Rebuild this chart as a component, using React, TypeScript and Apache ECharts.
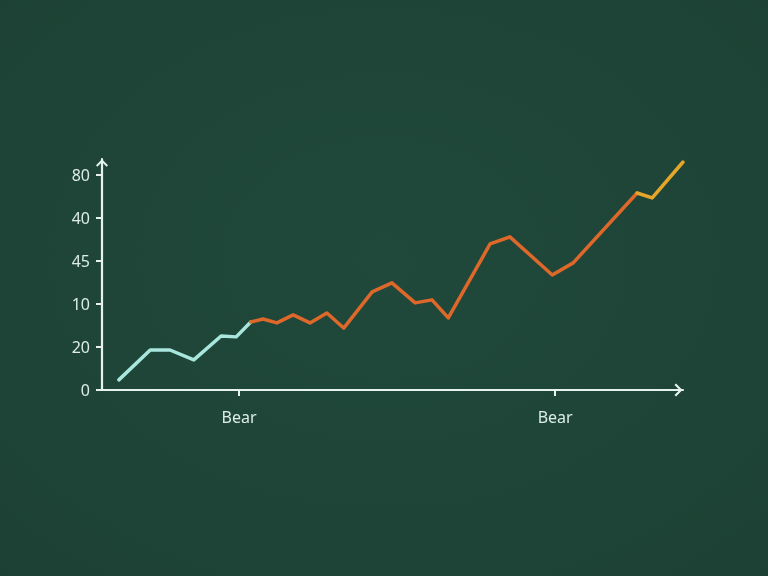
import React, { useEffect, useRef } from "react";
import * as echarts from "echarts";

// Point positions along the (unlabelled) horizontal scale, 0..100
const xValues = [
  2.9, 8.3, 11.7, 15.8, 20.5, 23.1, 25.6, 27.7, 30.1, 32.9, 35.8, 38.7, 41.6,
  46.5, 49.9, 53.9, 56.8, 59.6, 66.8, 70.2, 77.5, 81.1, 92.1, 94.7, 100,
];
// Values on the vertical scale (ticks every 20 units)
const yValues = [
  4.7, 18.6, 18.6, 14.0, 25.1, 24.7, 31.6, 33.0, 31.2, 34.9, 31.2, 35.8, 28.8,
  45.6, 49.8, 40.5, 41.9, 33.5, 67.9, 71.2, 53.5, 59.1, 91.6, 89.3, 106.0,
];
// Segment boundaries (indices into the arrays above)
const cyanEnd = 6;
const orangeEnd = 22;

const yTickValues = [0, 20, 40, 60, 80, 100];
const yTickLabels = ["0", "20", "10", "45", "40", "80"];
const xTickValues = [23.6, 78.0];
const xTickLabels = ["Bear", "Bear"];

const chevron = "path://M6 0 L12 6 L10.6 7.4 L6 2.8 L1.4 7.4 L0 6 Z";

function pts(from: number, to: number) {
  const out: number[][] = [];
  for (let i = from; i <= to; i++) out.push([xValues[i], yValues[i]]);
  return out;
}

export default function App() {
  const ref = useRef<HTMLDivElement>(null);
  useEffect(() => {
    document.body.style.margin = "0";
    const chart = echarts.init(ref.current!, undefined, { renderer: "svg" });
    const axisColor = "#e6f2ec";
    const labelColor = "#dcede5";
    const font = "'Noto Sans', 'Open Sans', sans-serif";
    const lineBase = { width: 3.5, cap: "round", join: "round" };
    chart.setOption({
      animation: false,
      backgroundColor: {
        type: "radial",
        x: 0.5,
        y: 0.45,
        r: 0.8,
        colorStops: [
          { offset: 0, color: "#20493b" },
          { offset: 1, color: "#1c4134" },
        ],
      },
      grid: { left: 102, right: 85, top: 159, bottom: 186, containLabel: false },
      xAxis: {
        type: "value",
        min: 0,
        max: 100,
        splitLine: { show: false },
        axisLine: {
          show: true,
          lineStyle: { color: axisColor, width: 2.2 },
          symbol: ["none", chevron],
          symbolSize: [13, 9],
          symbolOffset: [0, -4.5],
        },
        axisTick: {
          show: true,
          length: 6,
          lineStyle: { color: axisColor, width: 2 },
          customValues: xTickValues,
        },
        axisLabel: {
          color: labelColor,
          fontSize: 16,
          fontFamily: font,
          margin: 19,
          customValues: xTickValues,
          formatter: (v: number) => {
            const i = xTickValues.findIndex((t) => Math.abs(t - v) < 1e-6);
            return i >= 0 ? xTickLabels[i] : "";
          },
        },
      },
      yAxis: {
        type: "value",
        min: 0,
        max: 107.4,
        splitLine: { show: false },
        axisLine: {
          show: true,
          lineStyle: { color: axisColor, width: 2.2 },
          symbol: ["none", chevron],
          symbolSize: [12, 8],
          symbolOffset: [0, -4],
        },
        axisTick: {
          show: true,
          length: 6,
          lineStyle: { color: axisColor, width: 2 },
          customValues: yTickValues,
        },
        axisLabel: {
          color: labelColor,
          fontSize: 16,
          fontFamily: font,
          margin: 12,
          customValues: yTickValues,
          formatter: (v: number) => {
            const i = yTickValues.findIndex((t) => Math.abs(t - v) < 1e-6);
            return i >= 0 ? yTickLabels[i] : "";
          },
        },
      },
      series: [
        {
          type: "line",
          data: pts(0, cyanEnd),
          showSymbol: false,
          clip: false,
          lineStyle: { ...lineBase, color: "#a8e6de" },
        },
        {
          type: "line",
          data: pts(cyanEnd, orangeEnd),
          showSymbol: false,
          clip: false,
          lineStyle: { ...lineBase, color: "#de682a" },
        },
        {
          type: "line",
          data: pts(orangeEnd, xValues.length - 1),
          showSymbol: false,
          clip: false,
          lineStyle: { ...lineBase, color: "#e6a62a" },
        },
      ],
    });
    return () => chart.dispose();
  }, []);
  return (
    <div
      ref={ref}
      style={{ position: "fixed", left: 0, top: 0, width: 768, height: 576 }}
    />
  );
}
